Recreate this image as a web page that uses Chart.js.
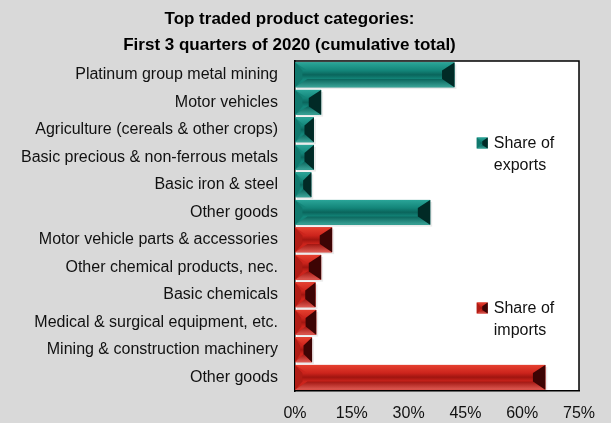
<!DOCTYPE html>
<html>
<head>
<meta charset="utf-8">
<script src="https://cdn.jsdelivr.net/npm/chart.js@4.4.1/dist/chart.umd.min.js"></script>
<style>
  html, body { margin: 0; padding: 0; background: #d9d9d9; }
  #wrap { width: 611px; height: 423px; }
</style>
</head>
<body>
<div id="wrap"><canvas id="tradeChart"></canvas></div>
<script>
// categories, top to bottom
const categories = [
    "Platinum group metal mining",
    "Motor vehicles",
    "Agriculture (cereals & other crops)",
    "Basic precious & non-ferrous metals",
    "Basic iron & steel",
    "Other goods",
    "Motor vehicle parts & accessories",
    "Other chemical products, nec.",
    "Basic chemicals",
    "Medical & surgical equipment, etc.",
    "Mining & construction machinery",
    "Other goods",
];

// share of exports / imports (%)
const exportShare = [42.1, 6.9, 5.0, 5.0, 4.3, 35.7, null, null, null, null, null, null];
const importShare = [null, null, null, null, null, null, 9.8, 6.9, 5.4, 5.6, 4.5, 66.1];

const xTicks = [0, 15, 30, 45, 60, 75];

const FONT = "'Liberation Sans', Arial, sans-serif";

const palettes = {
    teal: { base: "#138579", top: "#2aa598", mid: "#0a655c", bottom: "#3aa397", left: "#10786d", right: "#012a26" },
    red:  { base: "#cc241c", top: "#e6402f", mid: "#a01510", bottom: "#de5a52", left: "#b01c15", right: "#3d0404" },
};

function poly(ctx, pts, fill) {
    ctx.beginPath();
    ctx.moveTo(pts[0][0], pts[0][1]);
    for (let i = 1; i < pts.length; i++) ctx.lineTo(pts[i][0], pts[i][1]);
    ctx.closePath();
    ctx.fillStyle = fill;
    ctx.fill();
}

// draw a bevelled block between x0..x1, y0..y1
function bevel(ctx, x0, x1, y0, y1, pal, shadow) {
    const w = x1 - x0, h = y1 - y0;
    if (w <= 0 || h <= 0) return;
    const dx = Math.min(h * 0.5, w / 2);
    const dy = h * 0.33;
    if (shadow) {
        ctx.fillStyle = "rgba(0,0,0,0.08)";
        ctx.fillRect(x0 + 2, y0 + 2, w, h);
    }
    // centre band
    const g = ctx.createLinearGradient(0, y0 + dy, 0, y1 - dy);
    g.addColorStop(0, pal.base);
    g.addColorStop(0.5, pal.mid);
    g.addColorStop(1, pal.base);
    ctx.fillStyle = g;
    ctx.fillRect(x0, y0, w, h);
    // top face
    const gt = ctx.createLinearGradient(0, y0, 0, y0 + dy);
    gt.addColorStop(0, pal.top);
    gt.addColorStop(1, pal.base);
    poly(ctx, [[x0, y0], [x1, y0], [x1 - dx, y0 + dy], [x0 + dx, y0 + dy]], gt);
    // bottom face
    const gb = ctx.createLinearGradient(0, y1 - dy, 0, y1);
    gb.addColorStop(0, pal.mid);
    gb.addColorStop(1, pal.bottom);
    poly(ctx, [[x0, y1], [x1, y1], [x1 - dx, y1 - dy], [x0 + dx, y1 - dy]], gb);
    // left face
    poly(ctx, [[x0, y0], [x0 + dx * 0.6, y0 + dy], [x0 + dx * 0.6, y1 - dy], [x0, y1]], pal.left);
    // right face
    poly(ctx, [[x1, y0], [x1 - dx, y0 + dy], [x1 - dx, y1 - dy], [x1, y1]], pal.right);
}

const bevelBars = {
    id: "bevelBars",
    afterDatasetsDraw(chart) {
        const ctx = chart.ctx;
        ctx.save();
        chart.data.datasets.forEach((ds, i) => {
            const meta = chart.getDatasetMeta(i);
            const pal = palettes[ds.pal];
            meta.data.forEach((bar, j) => {
                if (ds.data[j] == null) return;
                const p = bar.getProps(["x", "y", "base", "height"], true);
                bevel(ctx, Math.min(p.base, p.x), Math.max(p.base, p.x), p.y - p.height / 2, p.y + p.height / 2, pal, true);
            });
        });
        ctx.restore();
    },
};

const frameAndLegend = {
    id: "frameAndLegend",
    beforeDraw(chart) {
        const { ctx, chartArea: a } = chart;
        ctx.save();
        ctx.fillStyle = "#ffffff";
        ctx.fillRect(a.left, a.top, a.right - a.left, a.bottom - a.top);
        ctx.restore();
    },
    afterDraw(chart) {
        const { ctx, chartArea: a } = chart;
        const ys = chart.scales.y;
        ctx.save();
        ctx.strokeStyle = "#000";
        ctx.lineWidth = 1.5;
        ctx.beginPath();
        ctx.moveTo(a.left, a.top);
        ctx.lineTo(a.right, a.top);
        ctx.lineTo(a.right, a.bottom);
        ctx.stroke();

        const items = [
            { pal: palettes.teal, lines: ["Share of", "exports"], at: 2.5 },
            { pal: palettes.red, lines: ["Share of", "imports"], at: 8.5 },
        ];
        ctx.font = "16px " + FONT;
        ctx.textBaseline = "middle";
        ctx.textAlign = "left";
        items.forEach(it => {
            const yc = ys.getPixelForValue(it.at);
            const bx = chart.scales.x.getPixelForValue(48);
            bevel(ctx, bx, bx + 11, yc - 6, yc + 5, it.pal, false);
            ctx.fillStyle = "#111";
            ctx.fillText(it.lines[0], bx + 17, yc);
            ctx.fillText(it.lines[1], bx + 17, yc + 22);
        });
        ctx.restore();
    },
};

new Chart(document.getElementById("tradeChart"), {
    type: "bar",
    data: {
        labels: categories,
        datasets: [
            { label: "Share of exports", data: exportShare, pal: "teal", backgroundColor: palettes.teal.base },
            { label: "Share of imports", data: importShare, pal: "red", backgroundColor: palettes.red.base },
        ],
    },
    options: {
        indexAxis: "y",
        responsive: true,
        maintainAspectRatio: false,
        animation: false,
        devicePixelRatio: 1,
        layout: { padding: { left: 0, right: 32, top: 0, bottom: 0 } },
        datasets: { bar: { barPercentage: 0.9, categoryPercentage: 1.0 } },
        plugins: {
            legend: { display: false },
            tooltip: { enabled: false },
            title: {
                display: true,
                text: ["Top traded product categories:", "First 3 quarters of 2020 (cumulative total)"],
                color: "#000",
                font: { family: FONT, size: 17, weight: "bold", lineHeight: 1.53 },
                padding: { top: 6, bottom: 3 },
            },
        },
        scales: {
            x: {
                min: 0,
                max: 75,
                afterBuildTicks(scale) { scale.ticks = xTicks.map(v => ({ value: v })); },
                afterFit(scale) { scale.height = 32; },
                grid: { display: false, drawOnChartArea: false, drawTicks: true, tickLength: 6, tickColor: "#000" },
                border: { display: true, color: "#000", width: 1.5 },
                ticks: {
                    color: "#111",
                    padding: 7,
                    font: { family: FONT, size: 16 },
                    callback: v => v + "%",
                    maxRotation: 0,
                },
            },
            y: {
                stacked: true,
                afterFit(scale) { scale.width = 295; },
                grid: { display: false, drawOnChartArea: false, drawTicks: true, tickLength: 7, tickColor: "#000", offset: true },
                border: { display: true, color: "#000", width: 1.5 },
                ticks: {
                    color: "#111",
                    padding: 10,
                    font: { family: FONT, size: 16 },
                    autoSkip: false,
                },
            },
        },
    },
    plugins: [frameAndLegend, bevelBars],
});
</script>
</body>
</html>
